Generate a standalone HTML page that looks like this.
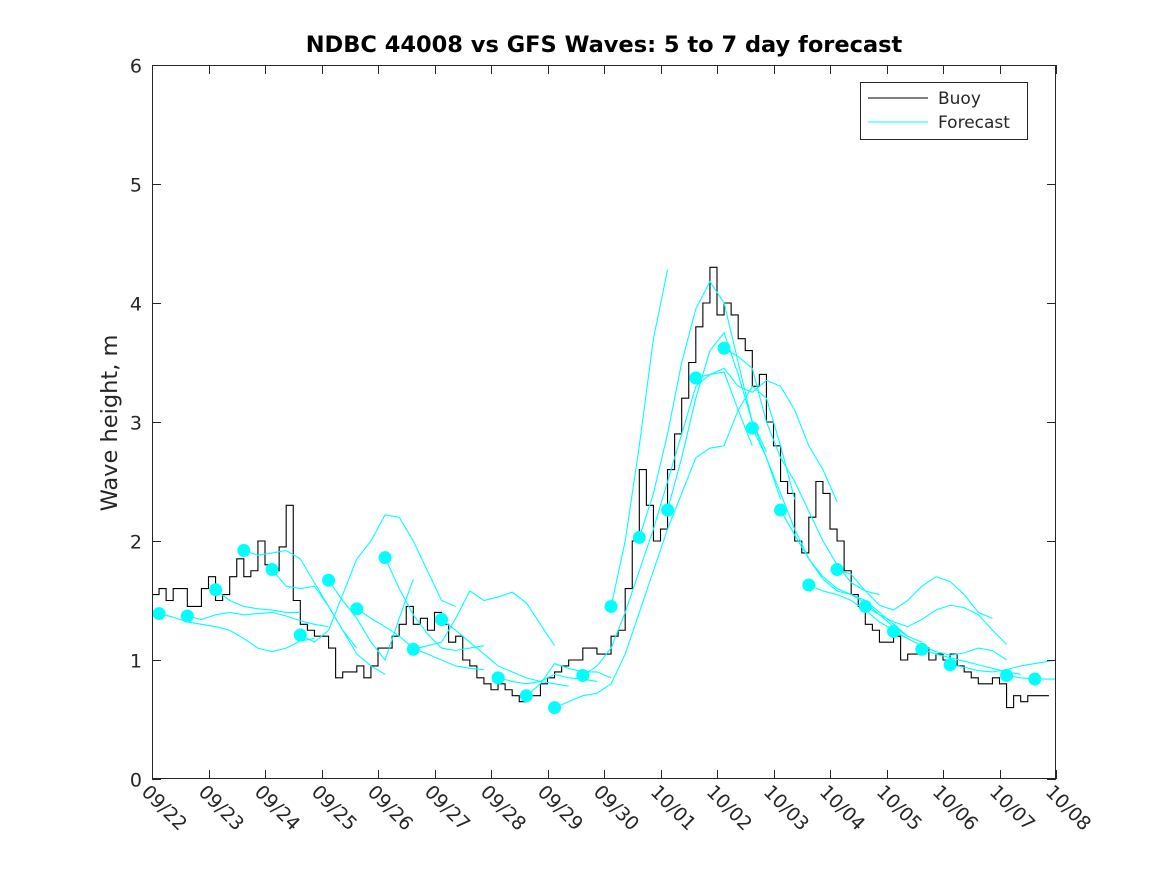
<!DOCTYPE html>
<html><head><meta charset="utf-8"><style>
body{margin:0;background:#fff;}
svg text{font-family:"DejaVu Sans","Liberation Sans",sans-serif;fill:#262626;}
</style></head><body>
<svg id="chart" width="1167" height="875" xmlns="http://www.w3.org/2000/svg">
<defs><clipPath id="plotclip"><rect x="152" y="65" width="904" height="714"/></clipPath></defs>
<rect width="1167" height="875" fill="#fff"/>
<text x="604" y="52" text-anchor="middle" font-size="22.5" font-weight="bold" style="fill:#000">NDBC 44008 vs GFS Waves: 5 to 7 day forecast</text>
<text transform="translate(117,423) rotate(-90)" text-anchor="middle" font-size="22.5">Wave height, m</text>
<g id="marks" clip-path="url(#plotclip)"></g>
<g id="axes"></g>
<g>
<rect x="860.5" y="82.5" width="167" height="57" fill="#fff" stroke="#262626"/>
<line x1="868" y1="98" x2="928" y2="98" stroke="#000"/>
<text x="938" y="104" font-size="17">Buoy</text>
<line x1="868" y1="122" x2="928" y2="122" stroke="#00ffff"/>
<text x="938" y="128" font-size="17">Forecast</text>
</g>
</svg>
<script>
const xTickLabels=["09/22","09/23","09/24","09/25","09/26","09/27","09/28","09/29","09/30","10/01","10/02","10/03","10/04","10/05","10/06","10/07","10/08"];
const yTickLabels=["0","1","2","3","4","5","6"];
// buoy every 0.125 day from day 0
const buoyValues=[
1.55,1.6,1.5,1.6,1.6,1.45,1.45,1.6,
1.7,1.5,1.55,1.7,1.85,1.7,1.75,2.0,
1.8,1.75,1.95,2.3,1.5,1.3,1.25,1.2,
1.2,1.1,0.85,0.9,0.9,0.95,0.85,0.95,
1.1,1.1,1.2,1.3,1.45,1.3,1.35,1.25,
1.4,1.3,1.15,1.2,1.0,0.95,0.85,0.8,
0.75,0.8,0.75,0.7,0.65,0.7,0.7,0.8,
0.85,0.9,0.95,1.0,1.0,1.1,1.1,1.05,
1.05,1.2,1.25,1.6,2.0,2.6,2.3,2.0,
2.1,2.6,2.9,3.2,3.5,3.8,4.0,4.3,
3.9,4.0,3.9,3.7,3.6,3.3,3.4,3.0,
2.8,2.5,2.4,2.0,1.9,2.2,2.5,2.4,
2.1,2.0,1.75,1.55,1.45,1.3,1.25,1.15,
1.15,1.2,1.0,1.05,1.05,1.1,1.0,1.05,
1.0,1.05,0.95,0.9,0.85,0.8,0.8,0.85,
0.8,0.6,0.7,0.65,0.7,0.7,0.7];
// forecast dots every 0.5 day starting day 0.125
const dotValues=[1.39,1.37,1.59,1.92,1.76,1.21,1.67,1.43,1.86,1.09,1.34,null,0.85,0.70,0.60,0.87,1.45,2.03,2.26,3.37,3.62,2.95,2.26,1.63,1.76,1.45,1.24,1.09,0.96,null,0.87,0.84];
// forecast curves: start day, values every 0.25 day
const fcStarts=[0.125,0.625,1.125,1.625,2.125,2.625,3.125,3.625,4.125,4.625,5.125,6.125,6.625,7.125,7.625,8.125,8.625,9.125,9.625,10.125,10.625,11.125,11.625,12.125,12.625,13.125,13.625,14.125,15.125];
const fcValues=[
[1.39,1.36,1.32,1.3,1.28,1.25,1.18,1.1,1.07,1.1,1.16,1.18],
[1.37,1.34,1.38,1.4,1.38,1.39,1.4,1.37,1.33,1.3,1.28],
[1.59,1.5,1.45,1.43,1.42,1.4,1.4],
[1.92,1.88,1.9,1.92,1.85,1.65,1.45,1.25,1.1],
[1.76,1.62,1.6,1.62,1.45,1.25,1.05,0.95,0.88],
[1.21,1.15,1.25,1.55,1.85,2.0,2.22,2.2,2.0,1.75,1.5,1.45],
[1.67,1.5,1.35,1.15,1.0,1.35,1.68],
[1.43,1.35,1.28,1.2,1.1,1.05,1.0,0.95,0.93,0.92],
[1.86,1.6,1.38,1.22,1.1,1.08,1.1,1.12],
[1.09,1.12,1.15,1.35,1.58,1.5,1.53,1.57,1.48,1.3,1.12],
[1.34,1.25,1.15,1.05,0.95,0.9,0.85,0.82,0.8,0.78],
[0.85,0.82,0.8,0.82,0.88,0.85,0.84,0.82],
[0.70,0.8,0.97,0.93,0.9,0.9,0.85],
[0.60,0.65,0.7,0.72,0.8,1.05,1.4,1.75,2.1,2.4,2.7,2.78,2.8,3.1,3.3,3.2,2.8,2.35],
[0.87,0.95,1.1,1.4,1.75,2.1,2.5,2.9,3.3,3.4,3.42,3.1,2.8],
[1.45,2.0,2.8,3.7,4.28],
[2.03,2.4,2.9,3.5,3.95,4.18,4.0,3.5,3.0,2.75],
[2.26,2.7,3.2,3.6,3.75,3.4,3.0,2.7,2.35],
[3.37,3.4,3.45,3.3,3.25,3.35,3.3,3.1,2.8,2.6,2.33],
[3.62,3.55,3.45,3.0,2.7,2.5,2.25,2.0,1.8,1.65,1.58,1.55],
[2.95,2.7,2.4,2.1,1.85,1.68,1.58,1.55,1.5,1.4,1.3,1.2],
[2.26,2.05,1.85,1.7,1.6,1.55,1.48,1.38,1.28,1.2,1.15],
[1.63,1.58,1.55,1.5,1.42,1.32,1.25,1.18],
[1.76,1.72,1.58,1.46,1.42,1.5,1.62,1.7,1.66,1.55,1.4,1.35],
[1.45,1.38,1.32,1.28,1.34,1.42,1.46,1.44,1.38,1.25,1.13],
[1.24,1.18,1.12,1.07,1.04,1.06,1.1,1.08,1.0],
[1.09,1.05,1.02,0.99,0.96,0.93,0.9,0.88],
[0.96,0.94,0.91,0.9,0.92,0.95,0.97,0.99,1.01,1.03,1.04],
[0.87,0.85,0.84,0.84,0.84,0.84,0.84]];
const X0=152,X1=1056,Y0=779,Y1=65,NS='http://www.w3.org/2000/svg';
function xs(d){return X0+(X1-X0)*d/16;}
function ys(v){return Y0-(Y0-Y1)*v/6;}
const marks=document.getElementById('marks'),axes=document.getElementById('axes');
function mk(tag,attrs,parent){const e=document.createElementNS(NS,tag);for(const k in attrs)e.setAttribute(k,attrs[k]);parent.appendChild(e);return e;}
let bp='';buoyValues.forEach((v,i)=>{const x=xs(i*0.125),y=ys(v);if(i===0)bp+='M'+x+' '+y;else bp+=' H'+x+' V'+y;});
bp+=' H'+xs(buoyValues.length*0.125);
const bl=mk('path',{d:bp,fill:'none',stroke:'#000','stroke-width':1.1},marks);


fcStarts.forEach((s,j)=>{
  const pts=fcValues[j].map((v,i)=>xs(s+i*0.25)+','+ys(v)).join(' ');
  const pl=mk('polyline',{points:pts,fill:'none',stroke:'#00ffff','stroke-width':1.1},marks);
  
  
});
dotValues.forEach((v,i)=>{
  if(v===null)return;
  const c=mk('circle',{cx:xs(0.125+0.5*i),cy:ys(v),r:6.5,fill:'#00ffff'},marks);
  
  
});
const fr=mk('rect',{x:X0+0.5,y:Y1+0.5,width:X1-X0-1,height:Y0-Y1-1,fill:'none',stroke:'#262626'},axes);


yTickLabels.forEach((t,i)=>{
  const y=Math.round(ys(i))+0.5;
  mk('line',{x1:X0,y1:y,x2:X0+9,y2:y,stroke:'#262626'},axes);
  mk('line',{x1:X1-9,y1:y,x2:X1,y2:y,stroke:'#262626'},axes);
  const tx=mk('text',{x:X0-10,y:y+7,'text-anchor':'end','font-size':19},axes);
  tx.textContent=t;
  
  
});
xTickLabels.forEach((t,i)=>{
  const x=Math.round(xs(i))+0.5;
  mk('line',{x1:x,y1:Y0,x2:x,y2:Y0-9,stroke:'#262626'},axes);
  mk('line',{x1:x,y1:Y1,x2:x,y2:Y1+9,stroke:'#262626'},axes);
  const tx=mk('text',{transform:'translate('+(x-12)+','+(Y0+14)+') rotate(45)','font-size':19},axes);
  tx.textContent=t;
  
  
});
</script>
</body></html>
